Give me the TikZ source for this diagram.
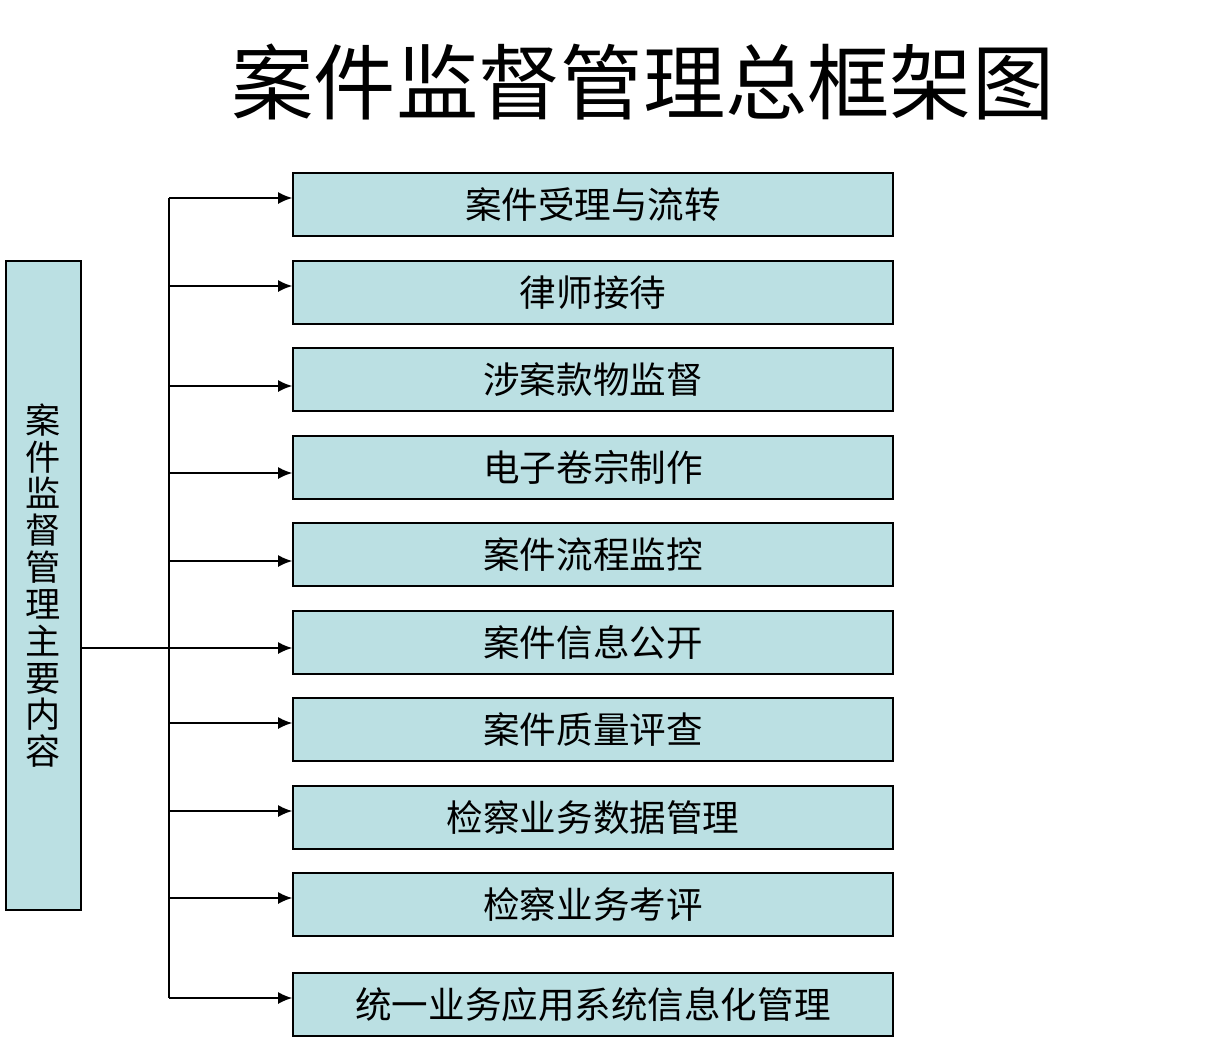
\documentclass[tikz,border=0pt]{standalone}
\usepackage{fontspec}
\setmainfont{Noto Sans CJK SC}
\usepackage{tikz}
\usetikzlibrary{arrows.meta}
\definecolor{boxfill}{RGB}{187,224,227}
\tikzset{
  itembox/.style={shape=rectangle,draw=black,line width=1pt,fill=boxfill,
    minimum width=15cm,minimum height=1.575cm,inner sep=0pt,
    font=\fontsize{26}{28}\selectfont},
  mainbox/.style={shape=rectangle,draw=black,line width=1pt,fill=boxfill,
    minimum width=1.875cm,minimum height=16.225cm,inner sep=0pt,align=center,
    font=\fontsize{25}{26.2}\selectfont},
  link/.style={-{Latex[length=10pt,width=8.5pt]},line width=1.2pt}
}
\begin{document}
\begin{tikzpicture}[x=0.025cm,y=-0.025cm]
      \useasboundingbox (0,0) rectangle (1231,1048);
      \node[font=\fontsize{58.5}{60}\selectfont] (title) at (643,82) {案件监督管理总框架图};
      % left box
      \node[mainbox] (main) at (43.5,585.5) {案\\件\\监\\督\\管\\理\\主\\要\\内\\容};
      % boxes on the right
      \foreach \t/\a/\txt [count=\i] in {173/198/案件受理与流转,261/286/律师接待,
          348/386/涉案款物监督,436/473/电子卷宗制作,523/561/案件流程监控,
          611/648/案件信息公开,698/723/案件质量评查,786/811/检察业务数据管理,
          873/898/检察业务考评,973/998/统一业务应用系统信息化管理}{
        \node[itembox] (item\i) at (593,\t+31.5) {\txt};
        \coordinate (tap\i) at (169,\a);
        \draw[link] (tap\i) -- (tap\i -| item\i.west);
      }
      \draw[line width=1.2pt] (tap1) -- (tap10);
      \draw[line width=1.2pt] (main.east |- tap6) -- (tap6);
    \end{tikzpicture}
\end{document}
